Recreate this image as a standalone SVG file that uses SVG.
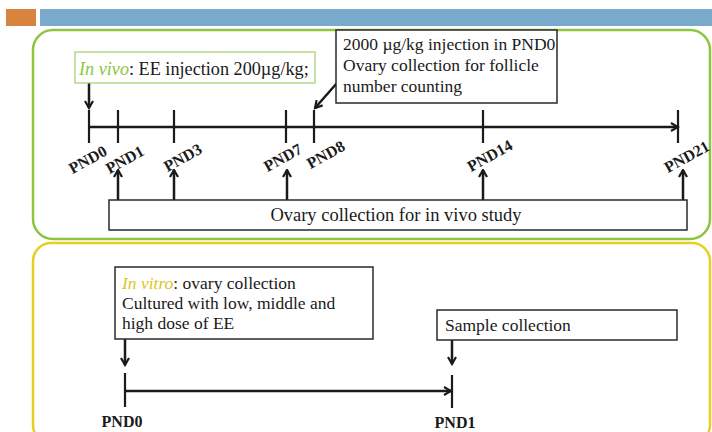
<svg xmlns="http://www.w3.org/2000/svg" width="712" height="432" viewBox="0 0 712 432">
<defs>
<style>
.t{font-family:"Liberation Serif","DejaVu Serif",serif;font-size:17.5px;fill:#1a1a1a}
.lb{font-family:"Liberation Serif","DejaVu Serif",serif;font-size:16px;font-weight:bold;fill:#1a1a1a}
.box{fill:#fff;stroke:#2a2a2a;stroke-width:1.5}
.tk{stroke:#1a1a1a;stroke-width:2.2;fill:none}
.ar{stroke:#1a1a1a;stroke-width:2.5;fill:none;marker-end:url(#ah)}
</style>
<marker id="ah" viewBox="0 0 10 10" refX="8.5" refY="5" markerWidth="10" markerHeight="10" markerUnits="userSpaceOnUse" orient="auto">
<path d="M1.5,1 L8.5,5 L1.5,9" fill="none" stroke="#1a1a1a" stroke-width="2.2"/>
</marker>
</defs>
<rect width="712" height="432" fill="#fff"/>
<g id="header">
<rect x="6" y="9" width="30" height="17" fill="#d9843e"/>
<rect x="40" y="9" width="672" height="17" fill="#7aaacb"/>
</g>
<g id="panel-invivo"><rect x="33" y="30" width="677" height="209" rx="20" fill="none" stroke="#8cc641" stroke-width="2.5"/></g>
<g id="panel-invitro"><rect x="33" y="243" width="677" height="200" rx="18" fill="none" stroke="#e6cf22" stroke-width="2.5"/></g>

<g id="connectors">
<line class="ar" x1="89" y1="83" x2="89" y2="108"/>
<line class="ar" x1="337" y1="83" x2="315" y2="108"/>
<line class="ar" x1="89" y1="127" x2="678" y2="127"/>
<line class="tk" x1="89" y1="110" x2="89" y2="143"/>
<line class="tk" x1="118" y1="110" x2="118" y2="143"/>
<line class="tk" x1="174" y1="110" x2="174" y2="143"/>
<line class="tk" x1="286" y1="110" x2="286" y2="143"/>
<line class="tk" x1="314" y1="110" x2="314" y2="143"/>
<line class="tk" x1="483" y1="110" x2="483" y2="143"/>
<line class="tk" x1="678" y1="110" x2="678" y2="143"/>
<line class="ar" x1="118" y1="200" x2="118" y2="170"/>
<line class="ar" x1="174" y1="200" x2="174" y2="170"/>
<line class="ar" x1="287" y1="200" x2="287" y2="170"/>
<line class="ar" x1="483" y1="200" x2="483" y2="170"/>
<line class="ar" x1="683" y1="200" x2="683" y2="170"/>
<line class="ar" x1="125" y1="339" x2="125" y2="365"/>
<line class="ar" x1="125" y1="391" x2="451" y2="391"/>
<line class="tk" x1="125" y1="373" x2="125" y2="407"/>
<line class="tk" x1="452" y1="375" x2="452" y2="408"/>
<line class="ar" x1="452" y1="340" x2="452" y2="364"/>
</g>

<g id="invivo-box">
<rect x="75" y="52" width="240" height="31" fill="#fff" stroke="#9fd06a" stroke-width="1.2"/>
<text class="t" x="79" y="75" style="font-size:18.2px"><tspan font-style="italic" fill="#8cc641">In vivo</tspan>: EE injection 200µg/kg;</text>
</g>
<g id="dose-box">
<rect class="box" x="336" y="30" width="221" height="73"/>
<text class="t" x="343" y="50">2000 µg/kg injection in PND0</text>
<text class="t" x="343" y="71">Ovary collection for follicle</text>
<text class="t" x="343" y="92">number counting</text>
</g>
<g id="labels-top">
<text class="lb" x="88" y="165" text-anchor="middle" transform="rotate(-29 88 160)">PND0</text>
<text class="lb" x="125" y="165" text-anchor="middle" transform="rotate(-29 125 160)">PND1</text>
<text class="lb" x="183" y="163" text-anchor="middle" transform="rotate(-29 183 158)">PND3</text>
<text class="lb" x="283" y="163" text-anchor="middle" transform="rotate(-29 283 158)">PND7</text>
<text class="lb" x="326" y="160" text-anchor="middle" transform="rotate(-29 326 155)">PND8</text>
<text class="lb" x="490" y="161" text-anchor="middle" transform="rotate(-29 490 156)">PND14</text>
<text class="lb" x="687" y="162" text-anchor="middle" transform="rotate(-29 687 157)">PND21</text>
</g>
<g id="invivo-study-box">
<rect class="box" x="109" y="200" width="578" height="30"/>
<text class="t" x="396" y="221" text-anchor="middle" style="font-size:18.5px">Ovary collection for in vivo study</text>
</g>
<g id="invitro-box">
<rect class="box" x="115" y="267" width="258" height="72"/>
<text class="t" x="122" y="289"><tspan font-style="italic" fill="#e0c41c">In vitro</tspan>:  ovary collection</text>
<text class="t" x="122" y="309">Cultured with low, middle and</text>
<text class="t" x="122" y="329">high dose of EE</text>
</g>
<g id="sample-box">
<rect class="box" x="437" y="310" width="240" height="30"/>
<text class="t" x="445" y="331">Sample collection</text>
</g>
<g id="labels-bottom">
<text class="lb" x="122" y="427" text-anchor="middle">PND0</text>
<text class="lb" x="455" y="428" text-anchor="middle">PND1</text>
</g>
</svg>
